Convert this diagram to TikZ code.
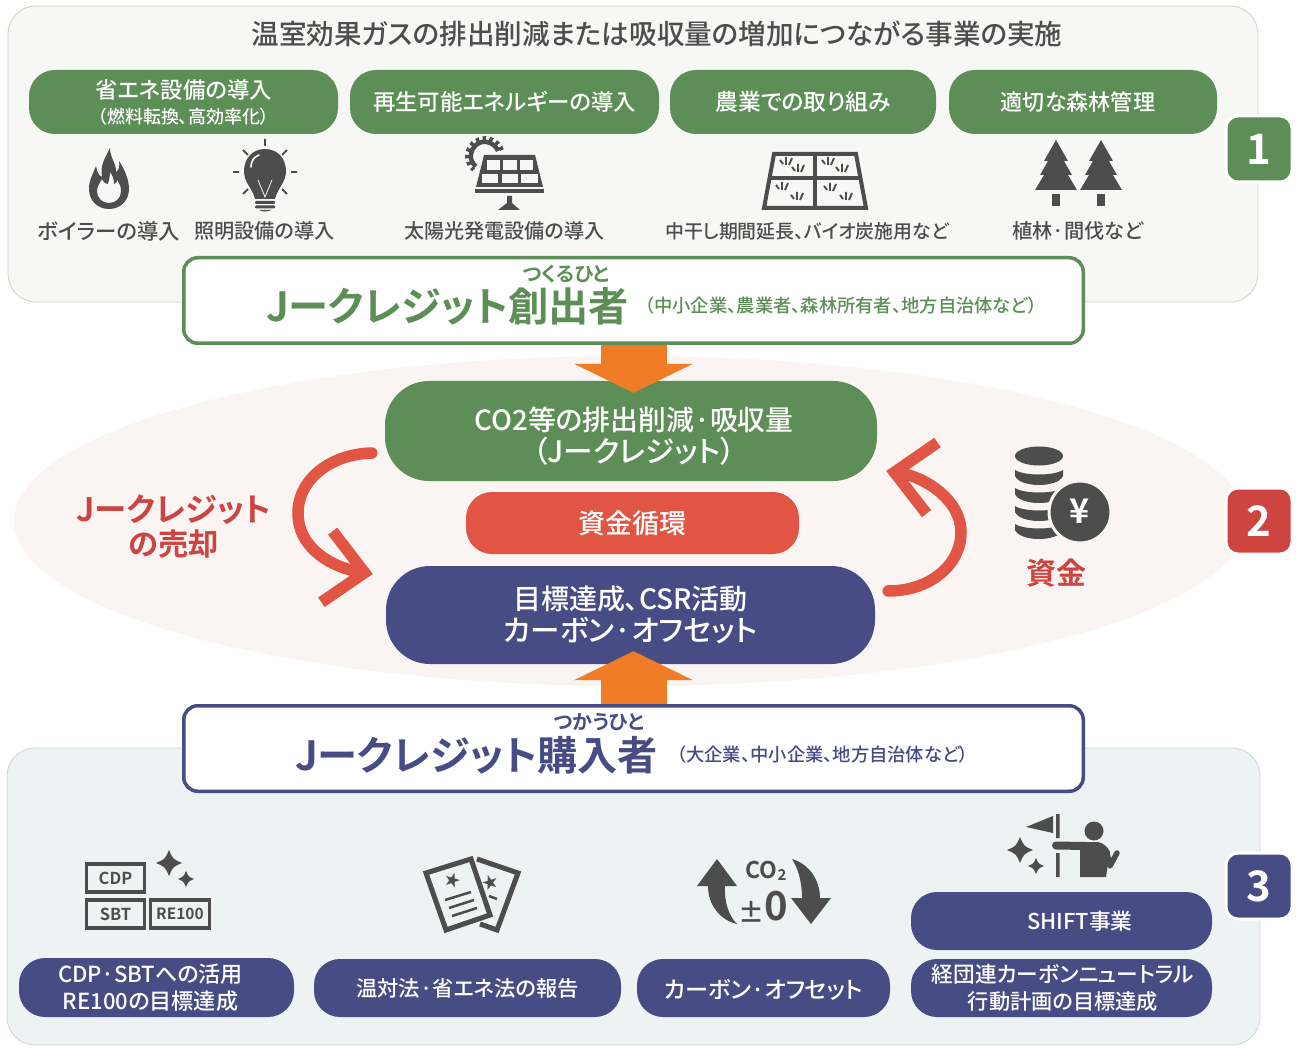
\documentclass[tikz,border=0pt]{standalone}
\usepackage{fontspec}
\setmainfont[RawFeature={+palt},BoldFont={Noto Sans CJK JP Bold}]{Noto Sans CJK JP Medium}
\usetikzlibrary{arrows.meta}
\definecolor{leaf}{HTML}{5D8E57}
\definecolor{navy}{HTML}{474C84}
\definecolor{tomato}{HTML}{E05544}
\definecolor{brick}{HTML}{CE4440}
\definecolor{carrot}{HTML}{F07C27}
\definecolor{ink}{HTML}{4D4D4D}
\definecolor{topbg}{HTML}{F7F7F5}
\definecolor{midbg}{HTML}{FAF5F2}
\definecolor{lowbg}{HTML}{EDF2F3}
\newcommand{\fsize}[1]{\fontsize{#1}{#1}\selectfont}
\newcommand{\sparkle}[3]{\fill[ink] (#1-#3,#2) .. controls (#1-#3*0.3,#2-#3*0.3) .. (#1,#2-#3) .. controls (#1+#3*0.3,#2-#3*0.3) .. (#1+#3,#2) .. controls (#1+#3*0.3,#2+#3*0.3) .. (#1,#2+#3) .. controls (#1-#3*0.3,#2+#3*0.3) .. cycle;}
\newcommand{\tuft}[2]{\draw[ink, line width=1.9pt] (#1-3,#2+3) -- (#1-6,#2-1) (#1,#2+4) -- (#1,#2-4) (#1+3,#2+4) -- (#1+6,#2-3);}
\tikzstyle{pill} = [rounded corners=26pt, inner sep=0pt, text=white, align=center, font=\fontsize{22.4}{27}\selectfont]
\tikzstyle{caption} = [text=ink, inner sep=0pt, font=\fsize{20.2}]
\tikzstyle{panel} = [rectangle, draw, rounded corners=28pt, line width=0.8pt]
\tikzstyle{owner} = [rectangle, draw, fill=white, line width=3.5pt, rounded corners=14pt, minimum width=899.5pt, minimum height=85.5pt, inner sep=0pt]
\tikzstyle{badge} = [draw=white, line width=3pt, rounded corners=12pt, minimum width=66pt, minimum height=66pt, inner sep=0pt, text=white, font=\bfseries\fsize{42}]
\tikzstyle{tag} = [draw=ink, line width=3.2pt, fill=none, inner sep=0pt, minimum height=28pt, text=ink]
\tikzstyle{bigarrow} = [draw=carrot, line width=66pt, -{Triangle[length=29pt,width=118pt]}]
\tikzstyle{turn} = [draw=tomato, line width=11.5pt, line cap=round, -{Straight Barb[length=38pt,width=72pt,sharp]}]

\begin{document}
\begin{tikzpicture}[x=1pt, y=-1pt]
	\useasboundingbox (0,0) rectangle (1296,1048);
	
	% backgrounds
	\path [panel, draw=leaf!35, fill=topbg] (8,6) rectangle (1258,302);
	\path [panel, draw=navy!25, fill=lowbg] (7,748) rectangle (1260,1045);
	\fill [midbg] (630,521) ellipse (616 and 165);
	
	% top area
	\node [text=ink, font=\fsize{27.6}, inner sep=0pt] (title) at (657,34) {温室効果ガスの排出削減または吸収量の増加につながる事業の実施};
	\node [pill, fill=leaf, minimum width=309pt, minimum height=64pt] (saving) at (183.5,102) {省エネ設備の導入\\[-2pt]\fontsize{18}{20}\selectfont（燃料転換、高効率化）};
	\node [pill, fill=leaf, minimum width=309pt, minimum height=64pt] (renew) at (504.5,102) {再生可能エネルギーの導入};
	\node [pill, fill=leaf, minimum width=266pt, minimum height=64pt, font=\fsize{22.8}] (farm) at (803,102) {農業での取り組み};
	\node [pill, fill=leaf, minimum width=268pt, minimum height=64pt, font=\fsize{22.1}] (forest) at (1083,102) {適切な森林管理\hspace*{10pt}};
	
	\node [caption, font=\fsize{21.4}] (boiler) at (109,231) {ボイラーの導入};
	\node [caption] (light) at (264.5,231) {照明設備の導入};
	\node [caption, font=\fsize{20.1}] (solar) at (504.5,231) {太陽光発電設備の導入};
	\node [caption, font=\fsize{18.9}] (paddy) at (807,231) {中干し期間延長、バイオ炭施用など};
	\node [caption] (trees) at (1078,231) {植林·間伐など};
	
	% flame
	\fill [ink, even odd rule] (109,209) .. controls (97,209) and (89,200) .. (89,189) .. controls (89,180) and (93,174) .. (96,166) .. controls (97,172) and (99,176) .. (102,177) .. controls (100,165) and (105,158) .. (110,148) .. controls (110,158) and (116,162) .. (116,172) .. controls (119,170) and (120,166) .. (119,161) .. controls (125,170) and (129,180) .. (129,189) .. controls (129,200) and (121,209) .. (109,209) -- cycle
		(109,203) .. controls (102,203) and (97,198) .. (97,191) .. controls (97,186) and (100,183) .. (102,179) .. controls (104,183) and (106,184) .. (108,184) .. controls (109,180) and (110,176) .. (110,172) .. controls (113,176) and (114,180) .. (114,184) .. controls (116,184) and (117,182) .. (117,180) .. controls (120,184) and (121,187) .. (121,191) .. controls (121,198) and (116,203) .. (109,203) -- cycle;
	% light bulb
	\fill [ink] (265,149) .. controls (252,149) and (244,159) .. (244,171) .. controls (244,183) and (252,187) .. (255,199) -- (275,199) .. controls (278,187) and (286,183) .. (286,171) .. controls (286,159) and (278,149) .. (265,149) -- cycle;
	\draw [topbg, line width=1.6pt, line cap=round] (251,167) .. controls (251,161) and (254,157) .. (259,155);
	\draw [topbg, line width=0.8pt] (258,180) -- (265,197) -- (272,180);
	\fill [ink, rounded corners=1pt] (255,201) rectangle (275,204) (255,205.5) rectangle (275,208.5);
	\fill [ink] (259,210) .. controls (262,212) and (268,212) .. (271,210) -- cycle;
	\draw [ink, line width=1.8pt] (265,139) -- (265,146) (243,150) -- (248,155) (287,150) -- (282,155) (233,172) -- (239,172) (291,172) -- (297,172) (243,194) -- (248,189) (287,194) -- (282,189);
	% solar panel
	\draw [ink, line width=4.5pt] (498,151) arc [start angle=20, end angle=230, radius=14pt];
	\draw [ink, line width=4pt, dash pattern=on 3.5pt off 3.5pt] (502,150) arc [start angle=20, end angle=230, radius=18pt];
	\fill [ink] (484,155) -- (535,155) -- (543,187) -- (476,187) -- cycle;
	\foreach \cella/\cellb in {487/500,503/517,520/533} {
		\fill [topbg] (\cella,160) rectangle (\cellb,170);
	}
	\foreach \cella/\cellb in {482/498,502/518,521/538} {
		\fill [topbg] (\cella,174) rectangle (\cellb,183);
	}
	\fill [ink] (475,189) rectangle (544,193);
	\fill [ink] (507,196) -- (512,196) -- (512,203) -- (520,210) -- (498,210) -- (507,203) -- cycle;
	% paddy field
	\draw [ink, line width=4pt, miter limit=10] (774,154) -- (856,154) -- (866,208) -- (764,208) -- cycle;
	\draw [ink, line width=4pt] (815,154) -- (815,208) (769,178) -- (861,178);
	\tuft{786}{161} \tuft{798}{168} \tuft{828}{161} \tuft{842}{168}
	\tuft{782}{186} \tuft{797}{196} \tuft{830}{187} \tuft{846}{196}
	% forest
	\foreach \treex in {1056,1101} {
		\fill [ink] (\treex,140) -- (\treex+12,161) -- (\treex+8,161) -- (\treex+16,175) -- (\treex+12,175) -- (\treex+21,190) -- (\treex-21,190) -- (\treex-12,175) -- (\treex-16,175) -- (\treex-8,161) -- (\treex-12,161) -- cycle;
		\fill [ink] (\treex-4,194) rectangle (\treex+4,206);
	}
	
	% creators
	\node [owner, draw=leaf] (creator) at (633.5,300.5) {};
	\node [text=leaf, font=\bfseries\fsize{20}, inner sep=0pt] (cruby) at (566,274) {つくるひと};
	\node [text=leaf, font=\bfseries\fsize{40.2}, inner sep=0pt, anchor=west] (cname) at (266,306) {Jークレジット創出者};
	\node [text=leaf, font=\fsize{18.3}, inner sep=0pt, anchor=west] (cnote) at (645,306) {（中小企業、農業者、森林所有者、地方自治体など）};
	
	% middle area
	\node [pill, fill=leaf, minimum width=492pt, minimum height=100pt, rounded corners=44pt] (reduce) at (631,431) {};
	\node [text=white, inner sep=0pt, align=center, font=\fontsize{27.8}{32}\selectfont] (reducetext) at (634,436) {CO2等の排出削減·吸収量\\\fontsize{29.5}{32}\selectfont（Jークレジット）};
	\node [pill, fill=tomato, minimum width=333pt, minimum height=62pt, font=\fsize{27}] (flow) at (632.5,523) {資金循環};
	\node [pill, fill=navy, minimum width=489pt, minimum height=98pt, rounded corners=44pt, font=\fontsize{28}{32}\selectfont] (goal) at (630.5,615) {目標達成、CSR活動\\\fontsize{29.5}{32}\selectfont カーボン·オフセット};
	
	\path [bigarrow] (creator.south) -- ([yshift=-12pt]creator.south |- reduce.north);
	
	\path [turn] ([xshift=-13pt,yshift=-22pt]reduce.west) .. controls (330,454) and (298,480) .. (298,513) .. controls (298,550) and (335,568) .. ([xshift=-13pt,yshift=41pt]goal.west);
	\path [turn] ([xshift=13pt,yshift=24pt]goal.east) .. controls (930,591) and (961,565) .. (961,532) .. controls (961,500) and (925,477) .. ([xshift=9pt,yshift=-40pt]reduce.east);
	
	\node [text=brick, font=\bfseries\fontsize{32.3}{34}\selectfont, inner sep=0pt, align=center] (sell) at (174,527) {Jークレジット\\\fontsize{30.3}{34}\selectfont の売却};
	\node [text=brick, font=\bfseries\fsize{30}, inner sep=0pt] (fund) at (1056,573) {資金};
	
	% coins
	\fill [ink] (1039,456) ellipse (24 and 9.5);
	\foreach \coiny in {470,488,506,524} {
		\fill [ink] (1015,\coiny) .. controls (1024,\coiny+6) and (1054,\coiny+6) .. (1063,\coiny) -- (1063,\coiny+6) .. controls (1058,\coiny+18) and (1020,\coiny+18) .. (1015,\coiny+6) -- cycle;
	}
	\fill [ink, draw=midbg, line width=3pt] (1080,512) circle (31);
	\node [text=white, font=\bfseries\fsize{34}, inner sep=0pt] (yen) at (1080,511) {¥};
	
	% buyers
	\node [owner, draw=navy] (buyer) at (633.5,748.5) {};
	\path [bigarrow] (buyer.north) -- ([yshift=13pt]buyer.north |- goal.south);
	\node [text=navy, font=\bfseries\fsize{20}, inner sep=0pt] (bruby) at (599,722) {つかうひと};
	\node [text=navy, font=\bfseries\fsize{40.2}, inner sep=0pt, anchor=west] (bname) at (295,755) {Jークレジット購入者};
	\node [text=navy, font=\fsize{18.3}, inner sep=0pt, anchor=west] (bnote) at (677,755) {（大企業、中小企業、地方自治体など）};
	
	% bottom area
	\node [pill, fill=navy, minimum width=275pt, minimum height=59pt, font=\fontsize{22.1}{27}\selectfont] (cdp) at (156.5,987.5) {CDP·SBTへの活用\hspace*{12pt}\\RE100の目標達成\hspace*{12pt}};
	\node [pill, fill=navy, minimum width=307pt, minimum height=58pt, font=\fsize{21.3}] (report) at (467.5,988) {温対法·省エネ法の報告};
	\node [pill, fill=navy, minimum width=253pt, minimum height=58pt] (offset) at (763.5,988) {};
	\node [text=white, inner sep=0pt, font=\fsize{23.2}] (offsettext) at (763.5,990) {カーボン·オフセット};
	\node [pill, fill=navy, minimum width=301pt, minimum height=58pt, font=\fontsize{21.7}{27}\selectfont] (plan) at (1061.5,988) {\hspace*{3pt}経団連カーボンニュートラル\\\fontsize{21.2}{27}\selectfont\hspace*{3pt}行動計画の目標達成};
	\node [pill, fill=navy, minimum width=301pt, minimum height=58pt, font=\fsize{21.8}] (shift) at (1061.5,921) {\hspace*{37pt}SHIFT事業};
	
	% frames
	\node [tag, minimum width=58pt, font=\bfseries\fsize{16.5}] (tcdp) at (115.5,878) {CDP};
	\node [tag, minimum width=58pt, font=\bfseries\fsize{16.5}] (tsbt) at (115.5,914) {SBT};
	\node [tag, minimum width=59pt, font=\bfseries\fsize{15.5}] (tre) at (180,914) {RE100};
	\sparkle{169}{863}{13}
	\sparkle{186}{879}{8}
	
	% documents
	\draw [ink, line width=5pt] (477,859) -- (518,873) -- (497,930) -- (480,924);
	\draw [ink, line width=5pt, fill=lowbg] (426,873) -- (471,859) -- (490,915) -- (446,930) -- cycle;
	\node [text=ink, font=\fsize{16}, inner sep=0pt, rotate=-17] (star1) at (453,880) {★};
	\node [text=ink, font=\fsize{16}, inner sep=0pt, rotate=17] (star2) at (490,882) {★};
	\draw [ink, line width=2.5pt] (445,900) -- (471,892) (449,908) -- (474,900) (452,916) -- (477,908) (489,896) -- (497,899);
	
	% zero emission
	\fill [ink] (717,859) -- (737,886) -- (725,886) .. controls (724,902) and (729,916) .. (737,924) .. controls (720,920) and (708,905) .. (708,886) -- (697,886) -- cycle;
	\fill [ink] (811,924) -- (791,898) -- (802,898) .. controls (802,882) and (798,868) .. (792,859) .. controls (809,864) and (820,880) .. (820,898) -- (831,898) -- cycle;
	\node [text=ink, font=\bfseries\fsize{23}, inner sep=0pt] (co) at (766,871) {CO\raisebox{-2pt}{\fsize{15}2}};
	\node [text=ink, font=\bfseries\fsize{26}, inner sep=0pt] (pm) at (751,912) {±};
	\node [text=ink, font=\bfseries\fsize{40}, inner sep=0pt] (zero) at (776,906) {0};
	
	% person with flag
	\fill [ink] (1053,816) -- (1026,827) -- (1053,833) -- cycle;
	\fill [ink] (1056,814) rectangle (1059.5,838) (1056,853) rectangle (1059.5,877);
	\fill [ink] (1094,831) circle (9.5);
	\draw [ink, line width=8pt, line cap=round] (1056,845.5) -- (1085,846);
	\fill [ink] (1080,842) -- (1098,842) .. controls (1103,843) and (1108,847) .. (1110,852) -- (1106,877) -- (1080,877) -- cycle;
	\draw [ink, line width=5.5pt, line cap=round, line join=round] (1107,853) -- (1110,866) -- (1117,853);
	\sparkle{1020}{850}{13}
	\sparkle{1036}{866}{8}
	
	% numbers
	\node [badge, fill=leaf] (one) at (1259,149) {1};
	\node [badge, fill=brick] (two) at (1259,521) {2};
	\node [badge, fill=navy] (three) at (1259,886) {3};
\end{tikzpicture}
\end{document}
